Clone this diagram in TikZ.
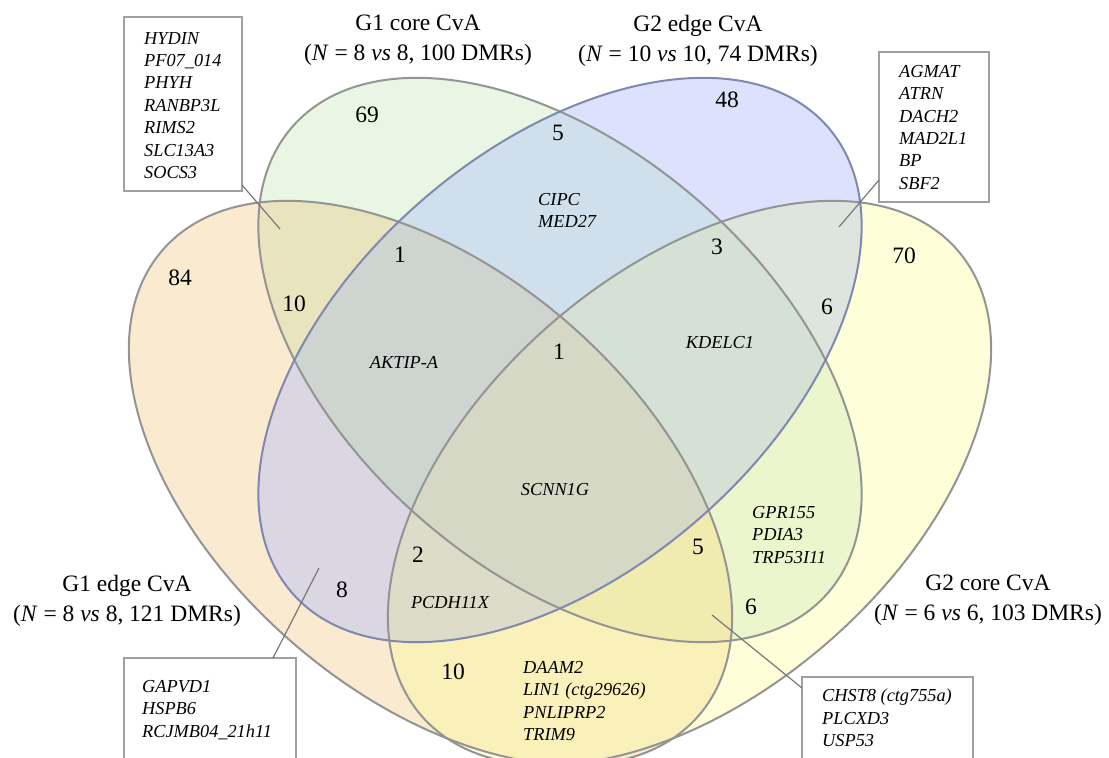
\documentclass[tikz,border=0pt]{standalone}
\usepackage{fontspec}
\setmainfont{Liberation Serif}
\definecolor{cA}{RGB}{250,234,208}
\definecolor{cB}{RGB}{234,246,228}
\definecolor{cC}{RGB}{220,226,252}
\definecolor{cD}{RGB}{254,254,216}
\definecolor{cAB}{RGB}{232,228,190}
\definecolor{cAC}{RGB}{218,214,226}
\definecolor{cAD}{RGB}{250,240,185}
\definecolor{cBC}{RGB}{207,224,236}
\definecolor{cBD}{RGB}{236,246,204}
\definecolor{cCD}{RGB}{222,228,222}
\definecolor{cABC}{RGB}{206,212,208}
\definecolor{cABD}{RGB}{240,236,176}
\definecolor{cACD}{RGB}{220,220,200}
\definecolor{cBCD}{RGB}{212,225,212}
\definecolor{cABCD}{RGB}{213,216,196}
\definecolor{strokeG}{RGB}{148,148,148}
\definecolor{strokeB}{RGB}{128,136,176}
\definecolor{boxgray}{RGB}{160,160,160}
\definecolor{leadgray}{RGB}{120,120,120}
\newcommand{\vennA}[1][]{\path[#1, rotate around={-41:(430.5,275)}] (430.5,275) ellipse [x radius=355pt, y radius=211pt];}
\newcommand{\vennB}[1][]{\path[#1, rotate around={-41:(560,398)}] (560,398) ellipse [x radius=355pt, y radius=211pt];}
\newcommand{\vennC}[1][]{\path[#1, rotate around={41:(560,398)}] (560,398) ellipse [x radius=355pt, y radius=211pt];}
\newcommand{\vennD}[1][]{\path[#1, rotate around={41:(689.5,275)}] (689.5,275) ellipse [x radius=355pt, y radius=211pt];}
\newcommand{\paintall}[1]{\fill[#1] (0,0) rectangle (1109,758);}
\begin{document}
\begin{tikzpicture}[x=1pt,y=1pt,
  lbl/.style={font=\fontsize{23.5}{29.5}\selectfont, align=center, anchor=north, inner sep=0pt},
  num/.style={font=\fontsize{23.5}{28}\selectfont, inner sep=0pt},
  gene/.style={font=\fontsize{18.3}{22.4}\selectfont\itshape, align=left, anchor=north west, inner sep=0pt},
  genec/.style={font=\fontsize{18.3}{22.4}\selectfont\itshape, inner sep=0pt},
  boxst/.style={draw=boxgray, line width=1.2pt, fill=white, inner sep=0pt},
  leader/.style={draw=leadgray, line width=1.2pt},
  setline/.style={line width=2pt}]
\useasboundingbox (0,0) rectangle (1109,758);
\clip (0,0) rectangle (1109,758);
% single sets
\vennA[fill=cA]
\vennB[fill=cB]
\vennC[fill=cC]
\vennD[fill=cD]
% pairs
\begin{scope}\vennA[clip]\vennB[clip]\paintall{cAB}\end{scope}
\begin{scope}\vennA[clip]\vennC[clip]\paintall{cAC}\end{scope}
\begin{scope}\vennA[clip]\vennD[clip]\paintall{cAD}\end{scope}
\begin{scope}\vennB[clip]\vennC[clip]\paintall{cBC}\end{scope}
\begin{scope}\vennB[clip]\vennD[clip]\paintall{cBD}\end{scope}
\begin{scope}\vennC[clip]\vennD[clip]\paintall{cCD}\end{scope}
% triples
\begin{scope}\vennA[clip]\vennB[clip]\vennC[clip]\paintall{cABC}\end{scope}
\begin{scope}\vennA[clip]\vennB[clip]\vennD[clip]\paintall{cABD}\end{scope}
\begin{scope}\vennA[clip]\vennC[clip]\vennD[clip]\paintall{cACD}\end{scope}
\begin{scope}\vennB[clip]\vennC[clip]\vennD[clip]\paintall{cBCD}\end{scope}
% all four
\begin{scope}\vennA[clip]\vennB[clip]\vennC[clip]\vennD[clip]\paintall{cABCD}\end{scope}
% outlines
\vennD[draw=strokeG, setline]
\vennB[draw=strokeG, setline]
\vennA[draw=strokeG, setline]
\vennC[draw=strokeB, setline]

% set labels
\node[lbl] (lg1core) at (418,742.8) {G1 core CvA\\(\textit{N} = 8 \textit{vs} 8, 100 DMRs)};
\node[lbl] (lg2edge) at (698,742.8) {G2 edge CvA\\(\textit{N} = 10 \textit{vs} 10, 74 DMRs)};
\node[lbl] (lg1edge) at (127,182.8) {G1 edge CvA\\(\textit{N} = 8 \textit{vs} 8, 121 DMRs)};
\node[lbl] (lg2core) at (988,182.8) {G2 core CvA\\(\textit{N} = 6 \textit{vs} 6, 103 DMRs)};

% region counts
\node[num] (n69) at (367,643) {69};
\node[num] (n48) at (727,658) {48};
\node[num] (n84) at (180,480) {84};
\node[num] (n70) at (904,502) {70};
\node[num] (n5a) at (558,625) {5};
\node[num] (n1a) at (400,503) {1};
\node[num] (n3) at (717,511) {3};
\node[num] (n10a) at (294,454) {10};
\node[num] (n6a) at (827,451) {6};
\node[num] (n1b) at (559,406) {1};
\node[num] (n2) at (418,203) {2};
\node[num] (n5b) at (698,211) {5};
\node[num] (n8) at (342,168) {8};
\node[num] (n6b) at (751,151) {6};
\node[num] (n10b) at (453,86) {10};

% genes inside regions
\node[gene] (gcipc) at (538,565.1) {CIPC\\MED27};
\node[genec] (gaktip) at (404,396) {AKTIP-A};
\node[genec] (gkdelc) at (720,415) {KDELC1};
\node[genec] (gscnn) at (555,268) {SCNN1G};
\node[genec] (gpcdh) at (450,155) {PCDH11X};
\node[gene] (ggpr) at (752,252.1) {GPR155\\PDIA3\\TRP53I11};
\node[gene] (gdaam) at (523,97.1) {DAAM2\\LIN1 (ctg29626)\\PNLIPRP2\\TRIM9};

% callout boxes
\node[boxst, minimum width=118pt, minimum height=174pt] (tlbox) at (183,654) {};
\node[boxst, minimum width=110pt, minimum height=150pt] (trbox) at (934,631) {};
\node[boxst, minimum width=172pt, minimum height=110pt] (blbox) at (210,45) {};
\node[boxst, minimum width=171pt, minimum height=90pt] (brbox) at (887.5,36) {};

\node[gene] (tllist) at (144,726.1) {HYDIN\\PF07\_014\\PHYH\\RANBP3L\\RIMS2\\SLC13A3\\SOCS3};
\node[gene] (trlist) at (899,693.1) {AGMAT\\ATRN\\DACH2\\MAD2L1\\BP\\SBF2};
\node[gene] (bllist) at (142,78.1) {GAPVD1\\HSPB6\\RCJMB04\_21h11};
\node[gene] (brlist) at (822,69.1) {CHST8 (ctg755a)\\PLCXD3\\USP53};

% leader lines
\coordinate (tlstart) at (242,573);
\coordinate (tltip) at (280,529);
\coordinate (trstart) at (879,578);
\coordinate (trtip) at (839,531);
\coordinate (blstart) at (273,100);
\coordinate (bltip) at (319,190);
\coordinate (brstart) at (802,70);
\coordinate (brtip) at (712,143);
\draw[leader] (tlstart) -- (tltip);
\draw[leader] (trstart) -- (trtip);
\draw[leader] (blstart) -- (bltip);
\draw[leader] (brstart) -- (brtip);
\end{tikzpicture}
\end{document}
